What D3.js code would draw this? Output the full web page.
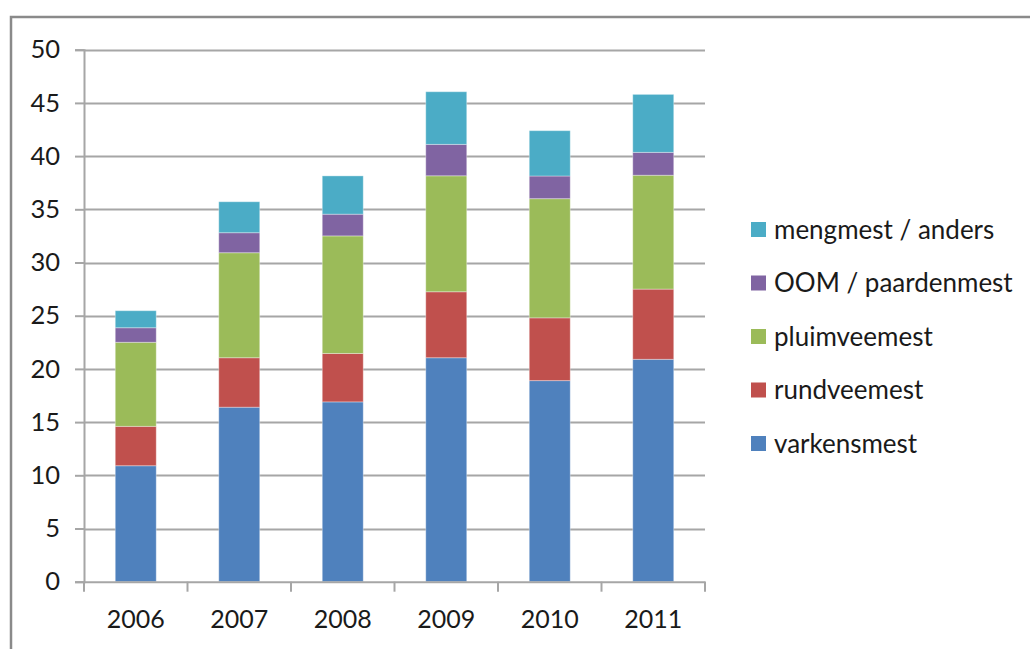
<!DOCTYPE html>
<html>
<head>
<meta charset="utf-8">
<script src="https://cdn.jsdelivr.net/npm/d3@7/dist/d3.min.js"></script>
<style>
  html, body { margin: 0; padding: 0; background: #fff; }
  svg { display: block; }
  text { font-family: Lato, "Open Sans", sans-serif; fill: #1a1a1a; }
</style>
</head>
<body>
<svg id="chart" width="1030" height="649"></svg>
<script>
// Mestafzet per jaar, uitgesplitst naar mestsoort
const years = ["2006", "2007", "2008", "2009", "2010", "2011"];
const varkensmest   = [10.9, 16.4, 16.9, 21.05, 18.9, 20.9];
const rundveemest   = [3.7, 4.65, 4.55, 6.2, 5.9, 6.6];
const pluimveemest  = [7.9, 9.87, 11.05, 10.9, 11.2, 10.7];
const oomPaarden    = [1.37, 1.88, 2.04, 2.95, 2.13, 2.15];
const mengmest      = [1.6, 2.91, 3.6, 4.95, 4.26, 5.45];
const yTicks = [0, 5, 10, 15, 20, 25, 30, 35, 40, 45, 50];

const seriesNames = ["varkensmest", "rundveemest", "pluimveemest", "OOM / paardenmest", "mengmest / anders"];
const seriesValues = [varkensmest, rundveemest, pluimveemest, oomPaarden, mengmest];
const colors = ["#4F81BD", "#C0504D", "#9BBB59", "#8064A2", "#4BACC6"];

const rows = years.map((y, i) => {
  const r = { year: y };
  seriesNames.forEach((s, k) => { r[s] = seriesValues[k][i]; });
  return r;
});

const svg = d3.select("#chart");
const plot = { left: 84, right: 705, top: 49.7, bottom: 581.7 };

const x = d3.scaleBand().domain(years).range([plot.left, plot.right])
  .paddingInner(0.604).paddingOuter(0.302);
const y = d3.scaleLinear().domain([0, 50]).range([plot.bottom, plot.top]);
const color = d3.scaleOrdinal().domain(seriesNames).range(colors);

// outer frame
svg.append("path")
  .attr("d", "M11,660 L11,17 L1040,17")
  .attr("fill", "none").attr("stroke", "#8a8a8a").attr("stroke-width", 2.5);

// gridlines
svg.append("g").selectAll("line").data(yTicks.filter(t => t > 0)).join("line")
  .attr("x1", plot.left).attr("x2", plot.right)
  .attr("y1", d => Math.round(y(d)) + 0.5).attr("y2", d => Math.round(y(d)) + 0.5)
  .attr("stroke", "#a6a6a6").attr("stroke-width", 2);

// stacked bars
const stack = d3.stack().keys(seriesNames);
const layers = stack(rows);
svg.append("g").selectAll("g").data(layers).join("g")
  .attr("fill", d => color(d.key))
  .selectAll("rect").data(d => d).join("rect")
  .attr("x", d => x(d.data.year))
  .attr("width", x.bandwidth())
  .attr("y", d => y(d[1]))
  .attr("height", d => y(d[0]) - y(d[1]))
  .attr("stroke", "rgba(255,255,255,0.35)").attr("stroke-width", 1);

// y axis
const yAxis = d3.axisLeft(y).tickValues(yTicks).tickSize(9).tickPadding(15);
const gy = svg.append("g").attr("transform", `translate(${plot.left},0)`).call(yAxis);
gy.select(".domain").attr("stroke", "#a6a6a6").attr("stroke-width", 2);
gy.selectAll(".tick line").attr("stroke", "#a6a6a6").attr("stroke-width", 2);
gy.selectAll(".tick text").attr("font-size", 25.5).attr("font-family", "Lato, sans-serif").attr("fill", "#1a1a1a");

// x axis
const xAxis = d3.axisBottom(x).tickSize(0).tickPadding(29);
const gx = svg.append("g").attr("transform", `translate(0,${plot.bottom})`).call(xAxis);
gx.select(".domain").attr("stroke", "#a6a6a6").attr("stroke-width", 2);
gx.selectAll(".tick text").attr("font-size", 25).attr("font-family", "Lato, sans-serif").attr("fill", "#1a1a1a");
// category separators
const step = x.step();
svg.append("g").selectAll("line").data(d3.range(years.length + 1)).join("line")
  .attr("x1", i => plot.left + i * step).attr("x2", i => plot.left + i * step)
  .attr("y1", plot.bottom).attr("y2", plot.bottom + 10)
  .attr("stroke", "#a6a6a6").attr("stroke-width", 2);

// legend
const legendOrder = seriesNames.slice().reverse();
const leg = svg.append("g").selectAll("g").data(legendOrder).join("g")
  .attr("transform", (d, i) => `translate(751,${229.5 + i * 53.5})`);
leg.append("rect").attr("x", 0).attr("y", -7.5).attr("width", 15).attr("height", 15)
  .attr("fill", d => color(d));
leg.append("text").attr("x", 23).attr("dy", "0.35em")
  .attr("font-size", 26).text(d => d);
</script>
</body>
</html>
